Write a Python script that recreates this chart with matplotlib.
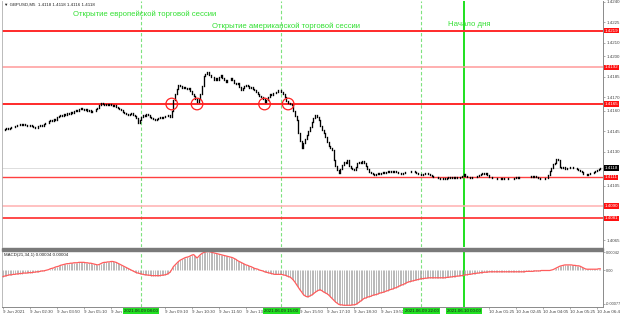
import numpy as np
import matplotlib.pyplot as plt
from matplotlib.transforms import blended_transform_factory
from matplotlib.patches import Rectangle

plt.rcParams["font.family"] = ["Liberation Sans", "DejaVu Sans"]

# ---
# Data
# ---

# GBPUSD M5 closes, in pips above 1.4000; bar 0 = 9 Jun 01:10
closes_pips = [
    146.0, 146.5, 147.2, 146.8, 147.5, 148.3, 148.0, 148.9, 149.2, 149.6,
    150.0, 149.4, 150.2, 149.8, 149.1, 148.7, 149.3, 148.5, 148.0, 147.6,
    147.2, 148.5, 149.8, 149.0, 150.6, 151.4, 150.8, 152.2, 153.0, 152.4,
    154.1, 153.5, 155.2, 156.0, 157.0, 156.2, 157.4, 156.8, 158.3, 157.6,
    159.0, 158.2, 159.6, 160.4, 159.8, 161.2, 162.0, 161.3, 160.5, 161.0,
    159.9, 160.4, 159.0, 160.2, 159.6, 161.0, 162.4, 164.1, 166.0, 165.2,
    164.6, 165.3, 164.0, 164.8, 164.2, 163.5, 164.1, 162.8, 162.0, 161.2,
    160.5, 159.4, 158.6, 158.0, 157.0, 157.8, 158.2, 156.9, 156.0, 155.0,
    151.2, 153.0, 155.4, 157.0, 156.4, 157.3, 157.0, 155.8, 155.0, 154.2,
    153.2, 154.0, 154.6, 155.2, 154.8, 155.6, 156.3, 155.9, 157.0, 155.4,
    160.0, 168.0, 172.4, 176.0, 179.0, 178.2, 176.4, 177.5, 177.0, 175.8,
    176.4, 174.2, 172.5, 170.6, 168.4, 166.5, 168.8, 172.0, 178.5, 185.8,
    187.2, 188.3, 186.0, 184.5, 185.2, 183.0, 184.0, 182.6, 184.8, 186.0,
    184.4, 182.7, 181.2, 183.0, 182.4, 184.0, 182.5, 180.8, 179.4, 180.2,
    177.6, 175.4, 176.8, 178.0, 179.0, 178.2, 176.6, 177.2, 176.0, 175.2,
    174.0, 172.3, 171.0, 170.4, 168.5, 166.3, 168.0, 170.4, 172.0, 171.4,
    172.8, 173.2, 174.0, 175.2, 175.4, 174.0, 172.2, 169.8, 167.4, 166.0,
    165.1, 164.0, 160.2, 156.5, 153.0, 144.0, 138.0, 133.0, 136.0, 139.0,
    142.5, 145.0, 148.0, 151.5, 154.8, 157.0, 155.4, 153.0, 149.0, 146.0,
    144.0, 140.5, 137.0, 134.2, 132.6, 131.0, 124.0, 119.6, 116.8, 114.0,
    117.0, 120.0, 122.4, 121.6, 124.0, 119.5, 118.2, 117.5, 116.8, 119.0,
    122.0, 122.4, 121.5, 122.8, 121.8, 119.2, 117.4, 115.2, 114.6, 113.8,
    113.0, 113.6, 114.2, 113.9, 114.4, 115.0, 114.3, 114.8, 115.4, 115.0,
    115.8, 115.2, 116.0, 115.1, 114.5, 114.0, 113.8, 114.6, 115.2, 114.7,
    115.3, 115.0, 116.0, 115.4, 114.8, 114.2, 113.6, 113.8, 113.0, 113.5,
    114.0, 114.4, 113.6, 112.8, 112.2, 111.6, 111.0, 111.4, 110.6, 110.2,
    110.0, 110.5, 110.2, 110.8, 111.2, 110.7, 111.0, 110.6, 111.3, 110.9,
    110.7, 111.0, 112.0, 113.2, 112.0, 111.0, 111.4, 110.8, 111.2, 111.6,
    111.4, 111.9, 112.5, 113.4, 114.0, 113.5, 114.2, 112.6, 111.6, 111.0,
    110.8, 110.4, 110.6, 110.1, 109.9, 110.3, 110.0, 110.4, 110.8, 110.2,
    110.0, 109.8, 110.1, 110.6, 111.0, 110.5, 111.2, 111.0, 111.6, 111.2,
    111.5, 111.0, 111.4, 112.0, 111.6, 112.2, 111.0, 110.6, 110.2, 110.0,
    110.1, 110.8, 110.6, 112.8, 116.0, 118.2, 121.0, 121.6, 124.8, 124.0,
    118.6, 117.8, 118.4, 117.0, 117.6, 118.3, 119.0, 118.4, 117.6, 118.2,
    117.0, 116.2, 115.4, 114.8, 113.6, 113.2, 113.0, 113.8, 114.2, 114.6,
    115.0, 115.6, 116.4, 117.2, 118.0,
]

# MACD(21,34,1) main line, units of 0.00001
macd_vals = [
    -14, -13, -12, -11, -10, -10, -9, -9, -8, -8,
    -7, -7, -6, -6, -6, -5, -5, -5, -4, -4,
    -3, -3, -2, -1, -1, 0, 1, 2, 4, 5,
    6, 8, 9, 10, 12, 13, 14, 15, 16, 16,
    17, 17, 18, 18, 18, 19, 19, 19, 19, 18,
    18, 17, 17, 16, 15, 14, 13, 14, 16, 18,
    19, 19, 20, 20, 21, 21, 20, 19, 17, 15,
    13, 11, 9, 7, 5, 3, 1, -1, -3, -5,
    -6, -7, -8, -9, -10, -10, -11, -11, -12, -12,
    -12, -12, -12, -12, -11, -11, -10, -9, -7, -4,
    2, 9, 13, 17, 21, 24, 26, 28, 30, 31,
    32, 34, 36, 37, 33, 29, 33, 37, 40, 42,
    43, 44, 44, 43, 42, 41, 40, 39, 38, 37,
    36, 35, 34, 33, 32, 31, 30, 28, 26, 23,
    21, 19, 17, 15, 13, 12, 10, 9, 7, 5,
    4, 3, 1, 0, -1, -3, -4, -5, -6, -7,
    -8, -9, -9, -9, -9, -9, -10, -11, -12, -14,
    -15, -18, -22, -27, -33, -39, -45, -50, -56, -59,
    -61, -61, -59, -57, -54, -51, -48, -46, -45, -47,
    -50, -52, -54, -57, -61, -65, -69, -73, -76, -79,
    -80, -80, -81, -81, -81, -81, -81, -80, -80, -79,
    -77, -74, -71, -68, -65, -64, -62, -61, -60, -58,
    -57, -56, -55, -53, -52, -51, -50, -48, -47, -45,
    -44, -43, -41, -40, -38, -36, -34, -33, -31, -29,
    -27, -26, -25, -24, -23, -22, -21, -20, -19, -19,
    -18, -18, -17, -17, -17, -17, -17, -17, -17, -17,
    -17, -17, -17, -16, -16, -15, -15, -14, -14, -13,
    -13, -12, -12, -11, -10, -10, -9, -9, -8, -7,
    -7, -6, -6, -5, -5, -4, -4, -4, -3, -3,
    -3, -3, -3, -3, -3, -3, -3, -3, -3, -3,
    -3, -3, -3, -3, -3, -3, -3, -3, -3, -3,
    -2, -2, -2, -2, -2, -1, -1, -1, -1, 0,
    0, 0, 0, 0, 0, 1, 2, 4, 6, 8,
    10, 11, 12, 13, 13, 13, 13, 13, 12, 12,
    11, 11, 10, 8, 6, 4, 3, 3, 3, 3,
    3, 3, 3, 4, 4,
]

# horizontal support / resistance levels
levels = [1.4219, 1.4192, 1.4165, 1.4111, 1.4090, 1.4081]
level_colors = ["#ff2a2a", "#ff9a9a", "#ff2a2a", "#ff4040", "#ffb0b0", "#ff2a2a"]
level_widths = [1.4, 1.1, 1.4, 1.0, 1.1, 1.2]

last_price = 1.4118
title = "▼ GBPUSD,M5  1.4118 1.4118 1.4116 1.4118"
macd_title = "MACD(21,34,1) 0.00004 0.00004"

price_ticks = [1.4240, 1.4225, 1.4210, 1.4200, 1.4185, 1.4170, 1.4160,
               1.4145, 1.4130, 1.4105, 1.4065]
macd_ticks = [42, 0, -77]
macd_tick_labels = ["0.00042", "0.00", "-0.00077"]

# bars where price touched 1.4165
touch_bars = [100, 115, 155, 169]
touch_price = 1.4165

# session markers
session_bars = [82, 165, 248, 273]
session_stamps = ["2021.06.09 08:00", "2021.06.09 15:00",
                  "2021.06.09 22:00", "2021.06.10 00:00"]
session_texts = ["Открытие европейской торговой сессии",
                 "Открытие американской торговой сессии",
                 "Начало дня"]
text_bars = [41.5, 124, 264]
text_prices = [1.42312, 1.42222, 1.42231]

time_ticks = list(range(0, 353, 16))
time_labels = ["9 Jun 2021", "9 Jun 02:30", "9 Jun 03:50", "9 Jun 05:10",
               "9 Jun 06:30", "", "9 Jun 09:10", "9 Jun 10:30", "9 Jun 11:50",
               "9 Jun 13:10", "", "9 Jun 15:50", "9 Jun 17:10", "9 Jun 18:30",
               "9 Jun 19:50", "", "", "", "10 Jun 01:25",
               "10 Jun 02:45", "10 Jun 04:05", "10 Jun 05:25", "10 Jun 06:45"]

# ---
# Figure
# ---

W, H = 620, 317
fig = plt.figure(figsize=(W / 100, H / 100), dpi=100)
ax = fig.add_axes([2 / W, 1 - 247 / H, 601 / W, 246 / H])
ax2 = fig.add_axes([2 / W, 1 - 307 / H, 601 / W, 56 / H])

xlim = (-0.6, 355.6)
grey = "#8a8a8a"
small = 3.2

# price panel
close = 1.4 + np.array(closes_pips) / 10000
open_ = np.r_[close[0], close[:-1]]
kp = np.arange(len(close))

for lv, c, lw in zip(levels, level_colors, level_widths):
    ax.axhline(lv, color=c, lw=lw, zorder=2)
ax.axhline(last_price, color="#d8d8d8", lw=0.6, zorder=1)

ax.vlines(kp, np.minimum(open_, close), np.maximum(open_, close),
          color="black", lw=0.95, capstyle="projecting", zorder=4)

ax.scatter(touch_bars, [touch_price] * len(touch_bars), s=70,
           facecolors="none", edgecolors="#ff2020", linewidths=0.9, zorder=5)

for a in (ax, ax2):
    for b in session_bars[:3]:
        a.axvline(b, color="#7ee27e", lw=0.8, ls=(0, (3, 2)), zorder=1)
    a.axvline(session_bars[3], color="#1ee01e", lw=1.4, zorder=1)

for t, b, p in zip(session_texts, text_bars, text_prices):
    ax.text(b, p, t, color="#33e033", fontsize=5.6, va="center", ha="left", zorder=6)

ax.set_xlim(*xlim)
ax.set_ylim(1.40599, 1.42407)
ax.set_xticks([])
ax.yaxis.tick_right()
ax.set_yticks(price_ticks)
ax.set_yticklabels([f"{v:.4f}" for v in price_ticks])
ax.tick_params(axis="y", labelsize=small, length=1.5, width=0.5, color=grey,
               labelcolor="#444444", pad=0.8)
for s in ("top", "bottom"):
    ax.spines[s].set_visible(False)
ax.spines["left"].set_color("#b0b0b0")
ax.spines["left"].set_linewidth(0.6)
ax.spines["right"].set_color(grey)
ax.spines["right"].set_linewidth(0.7)

ax.text(0.003, 0.995, title, transform=ax.transAxes, fontsize=small,
        va="top", ha="left", color="#222222")

trans = blended_transform_factory(ax.transAxes, ax.transData)
for lv in levels:
    ax.text(1.003, lv, f"{lv:.4f}", transform=trans, fontsize=small, color="white",
            va="center", ha="left", clip_on=False, zorder=7,
            bbox=dict(boxstyle="square,pad=0.15", fc="#ff1010", ec="none"))
ax.text(1.003, last_price, f"{last_price:.4f}", transform=trans, fontsize=small,
        color="white", va="center", ha="left", clip_on=False, zorder=7,
        bbox=dict(boxstyle="square,pad=0.15", fc="black", ec="none"))

# MACD panel
macd = np.array(macd_vals, dtype=float)
km = np.arange(len(macd))
ax2.vlines(km, 0, macd, color="#a6a6a6", lw=0.55, zorder=2)
ax2.plot(km, macd, color="#ff5c5c", lw=0.9, zorder=3)

ax2.set_xlim(*xlim)
ax2.set_ylim(-85, 45.4)
ax2.yaxis.tick_right()
ax2.set_yticks(macd_ticks)
ax2.set_yticklabels(macd_tick_labels)
ax2.set_xticks(time_ticks)
ax2.set_xticklabels(time_labels, ha="left")
ax2.tick_params(axis="both", labelsize=small, length=1.5, width=0.5, color=grey,
                labelcolor="#444444", pad=0.8)
ax2.tick_params(axis="y", labelsize=2.8)
ax2.spines["top"].set_visible(False)
ax2.spines["left"].set_color("#b0b0b0")
ax2.spines["left"].set_linewidth(0.6)
for s in ("right", "bottom"):
    ax2.spines[s].set_color(grey)
    ax2.spines[s].set_linewidth(0.7)

ax2.text(0.003, 0.97, macd_title, transform=ax2.transAxes, fontsize=small,
         va="top", ha="left", color="#222222")

xtrans = blended_transform_factory(ax2.transData, ax2.transAxes)
for b, s in zip(session_bars, session_stamps):
    ax2.text(b, -0.07, s, transform=xtrans, fontsize=small, color="#1a1a1a",
             va="center", ha="center", clip_on=False, zorder=8,
             bbox=dict(boxstyle="square,pad=0.25", fc="#22e022", ec="none"))

# separator between panels
fig.patches.append(Rectangle((2 / W, 1 - 250.5 / H), 601 / W, 2.5 / H,
                             transform=fig.transFigure, color="#7a7a7a"))

fig.savefig("out.png", dpi=100)
